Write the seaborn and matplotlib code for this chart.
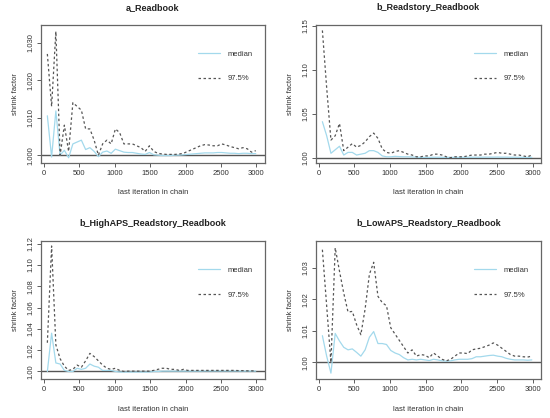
import numpy as np
import pandas as pd
import matplotlib
matplotlib.use("Agg")
import matplotlib.pyplot as plt
import seaborn as sns

# Gelman-Rubin shrink factor plots (median and 97.5% quantile)

iterations = [50, 110, 170, 230, 290, 350, 410, 470, 530, 590,
              650, 710, 770, 830, 890, 950, 1010, 1070, 1130, 1190,
              1250, 1310, 1370, 1430, 1490, 1550, 1610, 1670, 1730, 1790,
              1850, 1910, 1970, 2030, 2090, 2150, 2210, 2270, 2330, 2390,
              2450, 2510, 2570, 2630, 2690, 2750, 2810, 2870, 2930, 2990]

titles = ["a_Readbook", "b_Readstory_Readbook",
          "b_HighAPS_Readstory_Readbook", "b_LowAPS_Readstory_Readbook"]

a_median = [1.0105, 0.9995, 1.0118, 1.0000, 1.0013, 0.9993, 1.0030, 1.0035, 1.0040, 1.0015,
            1.0020, 1.0010, 0.9996, 1.0008, 1.0011, 1.0005, 1.0016, 1.0012, 1.0008, 1.0007,
            1.0007, 1.0005, 1.0003, 1.0002, 1.0007, 1.0001, 1.0000, 0.9999, 0.9999, 0.9999,
            1.0000, 1.0000, 1.0001, 1.0002, 1.0003, 1.0004, 1.0005, 1.0006, 1.0006, 1.0006,
            1.0007, 1.0007, 1.0006, 1.0005, 1.0005, 1.0004, 1.0005, 1.0005, 1.0004, 1.0004]
a_upper = [1.0270, 1.0130, 1.0330, 1.0000, 1.0080, 1.0010, 1.0140, 1.0130, 1.0120, 1.0070,
           1.0070, 1.0040, 1.0000, 1.0030, 1.0040, 1.0030, 1.0070, 1.0060, 1.0030, 1.0030,
           1.0030, 1.0025, 1.0020, 1.0010, 1.0025, 1.0010, 1.0005, 1.0003, 1.0002, 1.0002,
           1.0002, 1.0003, 1.0005, 1.0010, 1.0015, 1.0020, 1.0025, 1.0028, 1.0027, 1.0025,
           1.0025, 1.0030, 1.0027, 1.0023, 1.0020, 1.0017, 1.0020, 1.0017, 1.0008, 1.0012]

rs_median = [1.041, 1.025, 1.005, 1.009, 1.013, 1.003, 1.006, 1.006, 1.003, 1.004,
             1.005, 1.008, 1.008, 1.006, 1.002, 1.001, 1.001, 1.0015, 1.0012, 1.001,
             1.001, 1.0008, 1.0005, 1.0003, 1.0003, 1.0003, 1.0005, 1.0005, 1.0004, 1.0003,
             1.0003, 1.0003, 1.0004, 1.0004, 1.0005, 1.0005, 1.0005, 1.0005, 1.0006, 1.0006,
             1.0006, 1.0007, 1.0006, 1.0006, 1.0005, 1.0005, 1.0004, 1.0004, 1.0003, 1.0004]
rs_upper = [1.145, 1.080, 1.020, 1.025, 1.039, 1.008, 1.012, 1.016, 1.012, 1.014,
            1.018, 1.024, 1.028, 1.022, 1.010, 1.006, 1.005, 1.007, 1.008, 1.006,
            1.004, 1.003, 1.001, 1.001, 1.002, 1.002, 1.004, 1.004, 1.003, 1.001,
            1.000, 1.001, 1.001, 1.001, 1.002, 1.003, 1.003, 1.003, 1.004, 1.004,
            1.005, 1.006, 1.005, 1.005, 1.004, 1.003, 1.003, 1.002, 1.001, 1.003]

high_median = [1.000, 1.036, 1.008, 1.007, 1.001, 1.000, 1.000, 1.003, 1.002, 1.003,
               1.007, 1.005, 1.004, 1.001, 1.001, 1.001, 1.000, 0.9995, 0.9995, 0.9995,
               0.9995, 0.9995, 0.9995, 0.9995, 0.9995, 1.000, 1.000, 1.0003, 1.0003, 1.0003,
               1.0003, 1.0003, 1.0003, 1.0003, 1.0003, 1.0003, 1.0003, 1.0004, 1.0004, 1.0004,
               1.0004, 1.0004, 1.0004, 1.0004, 1.0004, 1.0003, 1.0003, 1.0003, 1.0003, 1.0003]
high_upper = [1.027, 1.118, 1.025, 1.012, 1.005, 1.001, 1.002, 1.006, 1.004, 1.010,
              1.017, 1.014, 1.010, 1.006, 1.003, 1.002, 1.003, 1.001, 1.000, 1.0003,
              1.0003, 1.0003, 1.0003, 1.0003, 1.0003, 1.001, 1.002, 1.003, 1.003, 1.002,
              1.002, 1.001, 1.002, 1.001, 1.001, 1.001, 1.001, 1.001, 1.001, 1.001,
              1.001, 1.001, 1.001, 1.001, 1.001, 1.0008, 1.0008, 1.0006, 1.0006, 1.0005]

low_median = [1.0085, 1.0020, 0.9966, 1.0092, 1.0068, 1.0048, 1.0040, 1.0043, 1.0032, 1.0020,
              1.0040, 1.0080, 1.0098, 1.0060, 1.0060, 1.0057, 1.0038, 1.0030, 1.0025, 1.0015,
              1.0008, 1.0010, 1.0008, 1.0010, 1.0008, 1.0006, 1.0010, 1.0008, 1.0005, 1.0004,
              1.0005, 1.0008, 1.0010, 1.0010, 1.0010, 1.0012, 1.0018, 1.0018, 1.0020, 1.0022,
              1.0023, 1.0020, 1.0018, 1.0013, 1.0010, 1.0008, 1.0008, 1.0008, 1.0007, 1.0008]
low_upper = [1.0358, 1.0180, 1.0000, 1.0364, 1.0290, 1.0220, 1.0160, 1.0162, 1.0120, 1.0088,
             1.0170, 1.0280, 1.0318, 1.0210, 1.0190, 1.0180, 1.0110, 1.0090, 1.0070, 1.0050,
             1.0030, 1.0040, 1.0020, 1.0025, 1.0023, 1.0015, 1.0030, 1.0020, 1.0010, 1.0005,
             1.0010, 1.0020, 1.0030, 1.0030, 1.0028, 1.0040, 1.0043, 1.0045, 1.0050, 1.0055,
             1.0062, 1.0055, 1.0045, 1.0035, 1.0025, 1.0020, 1.0020, 1.0018, 1.0017, 1.0020]

medians = [a_median, rs_median, high_median, low_median]
uppers = [a_upper, rs_upper, high_upper, low_upper]

y_limits = [(0.9979, 1.0347), (0.9939, 1.1511), (0.9928, 1.1225), (0.9947, 1.0385)]
y_ticks = [[1.000, 1.010, 1.020, 1.030],
           [1.00, 1.05, 1.10, 1.15],
           [1.00, 1.02, 1.04, 1.06, 1.08, 1.10, 1.12],
           [1.00, 1.01, 1.02, 1.03]]
y_fmt = ["{:.3f}", "{:.2f}", "{:.2f}", "{:.2f}"]

sns.set_theme(style="white")
plt.rcParams['font.family'] = ['Liberation Sans', 'DejaVu Sans']

fig = plt.figure(figsize=(5.5, 4.18), dpi=100)
positions = [[0.0745, 0.610, 0.407, 0.330],
             [0.5745, 0.610, 0.409, 0.330],
             [0.0745, 0.093, 0.407, 0.330],
             [0.5745, 0.093, 0.409, 0.330]]

for i in range(4):
    ax = fig.add_axes(positions[i])
    df = pd.DataFrame({'iter': iterations, 'median': medians[i], 'upper': uppers[i]})
    ax.axhline(1.0, color='#555555', lw=1.0, zorder=1)
    sns.lineplot(data=df, x='iter', y='median', ax=ax, color='#a3d9ec', lw=0.9,
                 label='median')
    sns.lineplot(data=df, x='iter', y='upper', ax=ax, color='#555555', lw=0.9,
                 linestyle=(0, (2.0, 2.0)), label='97.5%')
    ax.set_xlim(-40, 3118)
    ax.set_ylim(*y_limits[i])
    ax.set_xticks([0, 500, 1000, 1500, 2000, 2500, 3000])
    ax.set_yticks(y_ticks[i])
    ax.set_yticklabels([y_fmt[i].format(v) for v in y_ticks[i]], rotation=90, va='center')
    ax.tick_params(axis='both', labelsize=5.5, length=3, width=0.6, color='#444444',
                   pad=2, direction='out', bottom=True, left=True, labelcolor='#333333')
    for sp in ax.spines.values():
        sp.set_color('#666666')
        sp.set_linewidth(0.9)
    ax.set_title(titles[i], fontsize=6.5, fontweight='bold', pad=11, color='#222222')
    ax.set_xlabel('last iteration in chain', fontsize=5.5, labelpad=9, color='#333333')
    ax.set_ylabel('shrink factor', fontsize=5.5, labelpad=6, color='#333333')
    leg = ax.legend(loc='upper left', bbox_to_anchor=(0.69, 0.84), frameon=False,
                    fontsize=5.5, handlelength=2.8, labelspacing=2.3, handletextpad=1.0,
                    borderaxespad=0)
    for t in leg.get_texts():
        t.set_color('#333333')

fig.savefig('out.png', dpi=100)
